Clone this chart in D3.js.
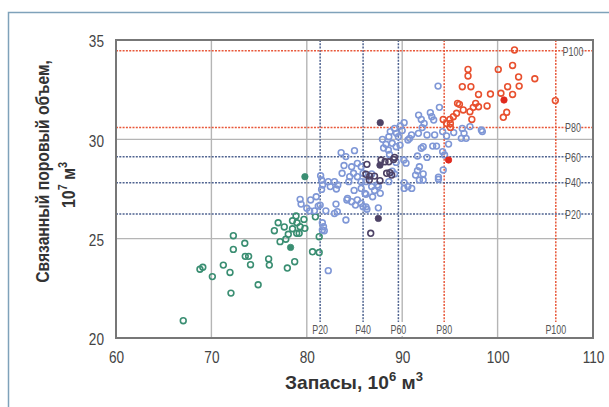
<!DOCTYPE html>
<html><head><meta charset="utf-8">
<script src="https://cdn.jsdelivr.net/npm/d3@7"></script>
<style>
html,body{margin:0;padding:0;background:#fff;}
svg{display:block;}
</style></head><body>
<svg id="c" width="609" height="407"></svg>
<script>
// ---- data ----
const xTicks = [60,70,80,90,100,110];
const yTicks = [20,25,30,35];
const xGrid = [70,80,90,100];
const yGrid = [25,30];
const pctLabels = ["P20","P40","P60","P80","P100"];
const xPct = [81.4,85.9,89.6,94.4,106.1];
const yPct = [26.24,27.82,29.12,30.6,34.46];
const pctGroup = ["blue","blue","blue","red","red"];

const greenPts = [[67.05,20.87],[68.8,23.46],[69.1,23.56],[70.1,23.09],[71.25,23.67],[71.95,23.3],[72.05,22.26],[72.3,25.15],[72.3,24.46],[73.5,24.77],[73.55,24.11],[73.9,24.11],[74.1,23.69],[74.9,22.68],[76.0,23.98],[76.07,23.67],[76.6,25.4],[77.0,25.8],[77.2,24.85],[77.64,25.59],[77.8,24.97],[77.96,23.52],[78.06,25.22],[78.5,25.5],[78.73,23.84],[78.5,25.9],[78.87,26.14],[78.94,25.27],[78.97,25.8],[79.2,25.27],[79.3,25.6],[79.7,25.97],[79.8,25.52],[80.6,24.34],[80.9,26.1],[81.3,24.3],[81.3,25.1]];
const bluePts = [[93.76,32.68],[93.9,31.61],[92.95,31.34],[93.1,31.14],[91.72,31.22],[92.0,31.0],[92.3,30.8],[92.1,30.59],[93.3,30.97],[90.2,30.84],[89.8,30.67],[89.2,30.55],[90.0,30.44],[88.75,30.39],[89.4,30.3],[89.6,30.13],[88.6,30.13],[90.98,30.22],[91.7,30.3],[92.6,30.22],[93.4,30.22],[94.24,30.39],[94.65,30.17],[95.4,30.34],[96.3,30.55],[97.1,30.64],[96.48,30.3],[96.7,30.05],[96.2,30.05],[98.3,30.47],[98.4,30.39],[90.78,30.05],[90.6,29.97],[87.93,30.0],[88.3,29.75],[88.95,29.8],[89.36,29.63],[89.77,29.71],[88.05,29.56],[88.55,29.46],[88.67,29.24],[92.2,29.63],[93.2,29.66],[93.6,29.66],[94.86,29.76],[91.6,29.16],[92.6,29.09],[92.0,29.55],[94.24,29.38],[94.44,29.21],[90.17,28.96],[90.4,28.8],[89.36,28.84],[91.8,28.62],[91.6,28.42],[92.2,28.26],[91.4,28.2],[91.8,27.95],[92.2,27.95],[93.8,27.99],[93.8,28.1],[94.3,28.46],[88.95,28.4],[88.6,27.87],[90.2,27.82],[90.6,27.62],[90.2,27.53],[91.0,27.53],[89.2,28.26],[87.5,27.62],[87.7,27.28],[87.1,27.43],[86.9,27.11],[86.8,28.26],[85.7,28.62],[85.3,28.79],[85.0,29.43],[83.6,29.33],[84.1,29.13],[83.9,28.68],[84.7,28.62],[84.9,28.29],[83.7,28.29],[84.5,28.12],[85.3,28.12],[85.9,28.29],[84.4,27.87],[85.7,27.87],[82.9,27.87],[82.25,27.87],[83.25,27.7],[83.1,27.5],[82.46,27.62],[81.65,27.7],[81.55,27.48],[84.96,27.43],[85.7,27.53],[86.1,27.28],[84.27,27.03],[84.2,26.95],[84.7,26.86],[85.3,26.95],[85.7,26.78],[85.9,26.61],[86.3,26.48],[85.1,26.69],[83.06,26.74],[83.2,26.36],[84.1,25.94],[82.9,26.27],[82.0,26.4],[81.4,26.69],[80.99,27.11],[80.4,26.95],[79.3,26.98],[79.4,26.74],[80.0,26.53],[80.3,26.4],[80.8,26.4],[81.2,26.64],[81.45,28.17],[81.55,27.95],[87.5,26.55],[86.2,26.6],[81.63,25.8],[81.75,25.6],[81.63,25.44],[81.83,25.4],[82.25,23.39],[86.2,27.23],[86.2,27.87],[86.8,27.62],[87.4,27.7]];
const darkPts = [[86.3,28.74],[86.2,28.24],[86.6,28.15],[87.1,28.15],[86.55,27.95],[87.67,27.92],[87.78,28.96],[88.2,28.87],[88.6,28.87],[89.1,28.99],[88.37,28.29],[88.7,28.32],[88.9,28.2],[89.2,29.09],[86.7,25.27]];
const redPts = [[101.77,34.5],[96.9,33.52],[96.9,33.19],[100.07,33.52],[101.57,33.72],[102.2,33.14],[103.9,33.05],[96.3,32.65],[97.2,32.65],[99.25,32.28],[98.0,32.26],[100.35,32.32],[101.05,32.65],[101.57,32.26],[102.26,32.68],[106.05,31.95],[95.8,31.81],[96.0,31.76],[97.7,31.81],[98.0,31.64],[98.9,31.68],[97.45,31.61],[96.4,31.48],[97.1,31.39],[95.7,31.31],[95.36,31.14],[95.0,31.0],[94.3,31.0],[97.3,31.0],[95.05,30.8],[94.65,30.8],[95.05,30.6],[100.96,31.36],[100.6,31.11]];
const greenFilled = [[78.3,24.56],[79.8,28.12]];
const darkFilled = [[87.7,30.84],[87.67,28.7],[87.5,26.02]];
const redFilled = [[100.67,31.98],[94.86,28.96]];

// ---- styles ----
const col = {green:"#3a8e72", blue:"#7f97d6", dark:"#4d4266", red:"#e8502e",
             redFill:"#e02a1e", pctBlue:"#4f6390", pctRed:"#e8583a"};
const FONT = '"Liberation Sans", Arial, sans-serif';

const svg = d3.select("#c");
const L=116, R=593, T=40, B=338;
const x = d3.scaleLinear().domain([60,110]).range([L,R]);
const y = d3.scaleLinear().domain([20,35]).range([B,T]);

// condense simple text nodes (emulate a narrow typeface)
function condense(sel, f){
  sel.each(function(){
    const w = this.getComputedTextLength();
    d3.select(this).attr("textLength", w*f).attr("lengthAdjust","spacingAndGlyphs");
  });
}

// page frame
svg.append("path").attr("d","M8.5,407 L8.5,12.5 L609,12.5")
  .attr("fill","none").attr("stroke","#7fa2ba").attr("stroke-width",1.5);

// grid
svg.append("g").selectAll("line").data(xGrid).join("line")
  .attr("x1",d=>x(d)).attr("x2",d=>x(d)).attr("y1",T).attr("y2",B)
  .attr("stroke","#b5b5b5").attr("stroke-width",1.4);
svg.append("g").selectAll("line").data(yGrid).join("line")
  .attr("y1",d=>y(d)).attr("y2",d=>y(d)).attr("x1",L).attr("x2",R)
  .attr("stroke","#b5b5b5").attr("stroke-width",1.4);

// percentile lines
const pc = g => g==="red"?col.pctRed:col.pctBlue;
svg.append("g").selectAll("line").data(xPct).join("line")
  .attr("x1",d=>x(d)).attr("x2",d=>x(d)).attr("y1",T).attr("y2",B)
  .attr("stroke",(d,i)=>pc(pctGroup[i])).attr("stroke-width",1.5).attr("stroke-dasharray","2,1.3");
svg.append("g").selectAll("line").data(yPct).join("line")
  .attr("y1",d=>y(d)).attr("y2",d=>y(d)).attr("x1",L).attr("x2",R)
  .attr("stroke",(d,i)=>pc(pctGroup[i])).attr("stroke-width",1.5).attr("stroke-dasharray","2,1.3");

// points
function pts(data,color,filled){
  svg.append("g").selectAll("circle").data(data).join("circle")
    .attr("cx",d=>x(d[0])).attr("cy",d=>y(d[1])).attr("r",filled?3.2:2.9)
    .attr("fill",filled?color:"none").attr("stroke",color).attr("stroke-width",filled?0.8:1.6);
}
pts(greenPts,col.green,false);
pts(bluePts,col.blue,false);
pts(darkPts,col.dark,false);
pts(redPts,col.red,false);
pts(greenFilled,col.green,true);
pts(darkFilled,col.dark,true);
pts(redFilled,col.redFill,true);

// percentile labels
const lab = svg.append("g").attr("font-family",FONT).attr("font-size",13.5).attr("fill","#555");
function pLabel(cx, cy, t){
  const tx = lab.append("text").attr("x",cx).attr("y",cy+4.8).attr("text-anchor","middle").text(t);
  const f = 0.66;
  condense(tx, f);
  const w = tx.node().getComputedTextLength()*f + 3;
  lab.insert("rect","text").attr("x",cx-w/2).attr("y",cy-7).attr("width",w).attr("height",14).attr("fill","#fff");
}
yPct.forEach((v,i)=>pLabel(573, y(v), pctLabels[i]));
xPct.forEach((v,i)=>pLabel(x(v), 329, pctLabels[i]));

// frame
svg.append("rect").attr("x",L).attr("y",T).attr("width",R-L).attr("height",B-T)
  .attr("fill","none").attr("stroke","#777").attr("stroke-width",2);

// axes tick labels
const xa = svg.append("g").attr("transform",`translate(0,${B})`)
  .call(d3.axisBottom(x).tickValues(xTicks).tickSize(0).tickPadding(0).tickFormat(d3.format("d")));
xa.select(".domain").remove();
xa.selectAll("text").attr("font-size",17).attr("fill","#444").attr("dy","1.45em").attr("font-family",FONT);
condense(xa.selectAll("text"),0.8);
const ya = svg.append("g").attr("transform",`translate(${L},0)`)
  .call(d3.axisLeft(y).tickValues(yTicks).tickSize(0).tickPadding(12).tickFormat(d3.format("d")));
ya.select(".domain").remove();
ya.selectAll("text").attr("font-size",17).attr("fill","#444").attr("dy","0.4em").attr("font-family",FONT);
condense(ya.selectAll("text"),0.8);

// axis titles (scaled horizontally to emulate narrow bold face)
function title(cx, cy, rot, width, build){
  const g = svg.append("g");
  const inner = g.append("g");
  const t = inner.append("text").attr("text-anchor","middle").attr("font-family",FONT)
    .attr("font-weight","bold").attr("font-size",19).attr("fill","#333");
  build(t);
  const bb = t.node().getBBox();
  const s = width/bb.width;
  inner.attr("transform",`scale(${s},1)`);
  g.attr("transform",`translate(${cx},${cy}) rotate(${rot})`);
}
title(354, 389, 0, 138, t=>{
  t.append("tspan").text("Запасы, 10");
  t.append("tspan").attr("font-size",13).attr("dy",-8).text("6");
  t.append("tspan").attr("dy",8).text(" м");
  t.append("tspan").attr("font-size",13).attr("dy",-8).text("3");
});
title(49, 171.5, -90, 223, t=>t.text("Связанный поровый объем,"));
title(75, 185, -90, 46, t=>{
  t.append("tspan").text("10");
  t.append("tspan").attr("font-size",13).attr("dy",-8).text("7");
  t.append("tspan").attr("dy",8).text(" м");
  t.append("tspan").attr("font-size",13).attr("dy",-8).text("3");
});
</script>
</body></html>
